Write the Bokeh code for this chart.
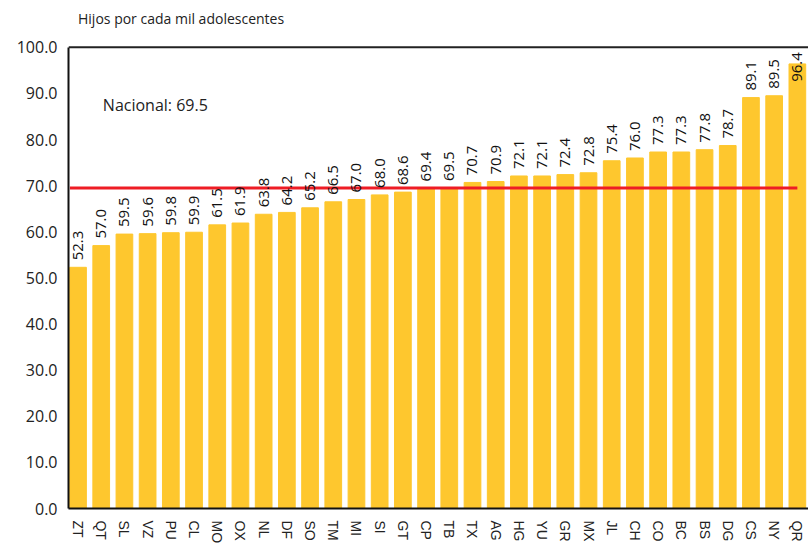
import math
from bokeh.plotting import figure
from bokeh.models import ColumnDataSource, Range1d, FixedTicker, Label, NumeralTickFormatter, Span
from bokeh.core.properties import value
from bokeh.embed import file_html
from bokeh.resources import INLINE

states = ["ZT", "QT", "SL", "VZ", "PU", "CL", "MO", "OX", "NL", "DF", "SO", "TM", "MI", "SI",
          "GT", "CP", "TB", "TX", "AG", "HG", "YU", "GR", "MX", "JL", "CH", "CO", "BC", "BS",
          "DG", "CS", "NY", "QR"]
rates = [52.3, 57.0, 59.5, 59.6, 59.8, 59.9, 61.5, 61.9, 63.8, 64.2, 65.2, 66.5, 67.0, 68.0,
         68.6, 69.4, 69.5, 70.7, 70.9, 72.1, 72.1, 72.4, 72.8, 75.4, 76.0, 77.3, 77.3, 77.8,
         78.7, 89.1, 89.5, 96.4]
national = 69.5
y_ticks = [0, 10, 20, 30, 40, 50, 60, 70, 80, 90, 100]
title_text = "Hijos por cada mil adolescentes"
national_text = "Nacional: 69.5"

n = len(states)
xs = list(range(n))
y_max = y_ticks[-1]
label_y = [min(v, 91.0) for v in rates]
src = ColumnDataSource(dict(x=xs, y=rates, ly=label_y, lab=[f"{v:.1f}" for v in rates]))

p = figure(width=808, height=546, output_backend="svg", toolbar_location=None,
           x_range=Range1d(-0.41, n - 0.52), y_range=Range1d(0, 110.15),
           min_border_left=68, min_border_right=0, min_border_top=0, min_border_bottom=36)
p.background_fill_color = "white"
p.border_fill_color = "white"
p.outline_line_color = None
p.xgrid.visible = False
p.ygrid.visible = False

p.add_layout(Span(location=y_max, dimension="width", line_color="#222222", line_width=2))

p.vbar(x="x", top="y", width=0.72, bottom=0, source=src, color="#FEC72E")
p.line([-0.35, n - 1], [national, national], line_color="#EE1C25", line_width=3)

p.text(x="x", y="ly", text="lab", source=src, angle=math.pi / 2,
       text_align="left", text_baseline="middle", y_offset=-7, x_offset=0,
       text_font=value("Open Sans"), text_font_size="15px", text_color="#111111")

p.add_layout(Label(x=0.0, y=106.3, text=title_text, text_font="Open Sans",
                   text_font_size="14px", text_color="#222222", text_baseline="middle",
                   text_align="left"))
p.add_layout(Label(x=1.07, y=87.5, text=national_text, text_font="Open Sans",
                   text_font_size="16px", text_color="#222222", text_baseline="middle",
                   text_align="left"))

p.yaxis.ticker = FixedTicker(ticks=y_ticks)
p.yaxis.bounds = (0, y_max)
p.yaxis.formatter = NumeralTickFormatter(format="0.0")
p.yaxis.major_label_text_font = "Open Sans"
p.yaxis.major_label_text_font_size = "16px"
p.yaxis.major_label_text_color = "#222222"
p.yaxis.major_tick_line_color = None
p.yaxis.minor_tick_line_color = None
p.yaxis.major_tick_out = 0
p.yaxis.major_label_standoff = 11
p.yaxis.axis_line_color = "#111111"
p.yaxis.axis_line_width = 2

p.xaxis.ticker = FixedTicker(ticks=xs)
p.xaxis.major_label_overrides = {i: s for i, s in enumerate(states)}
p.xaxis.major_label_orientation = "vertical"
p.xaxis.major_label_text_font = "Liberation Sans"
p.xaxis.major_label_text_font_size = "14px"
p.xaxis.major_label_text_color = "#222222"
p.xaxis.major_tick_line_color = None
p.xaxis.minor_tick_line_color = None
p.xaxis.major_tick_out = 0
p.xaxis.major_label_standoff = 12
p.xaxis.axis_line_color = "#111111"
p.xaxis.axis_line_width = 2

open("out.html", "w").write(file_html(p, INLINE))
